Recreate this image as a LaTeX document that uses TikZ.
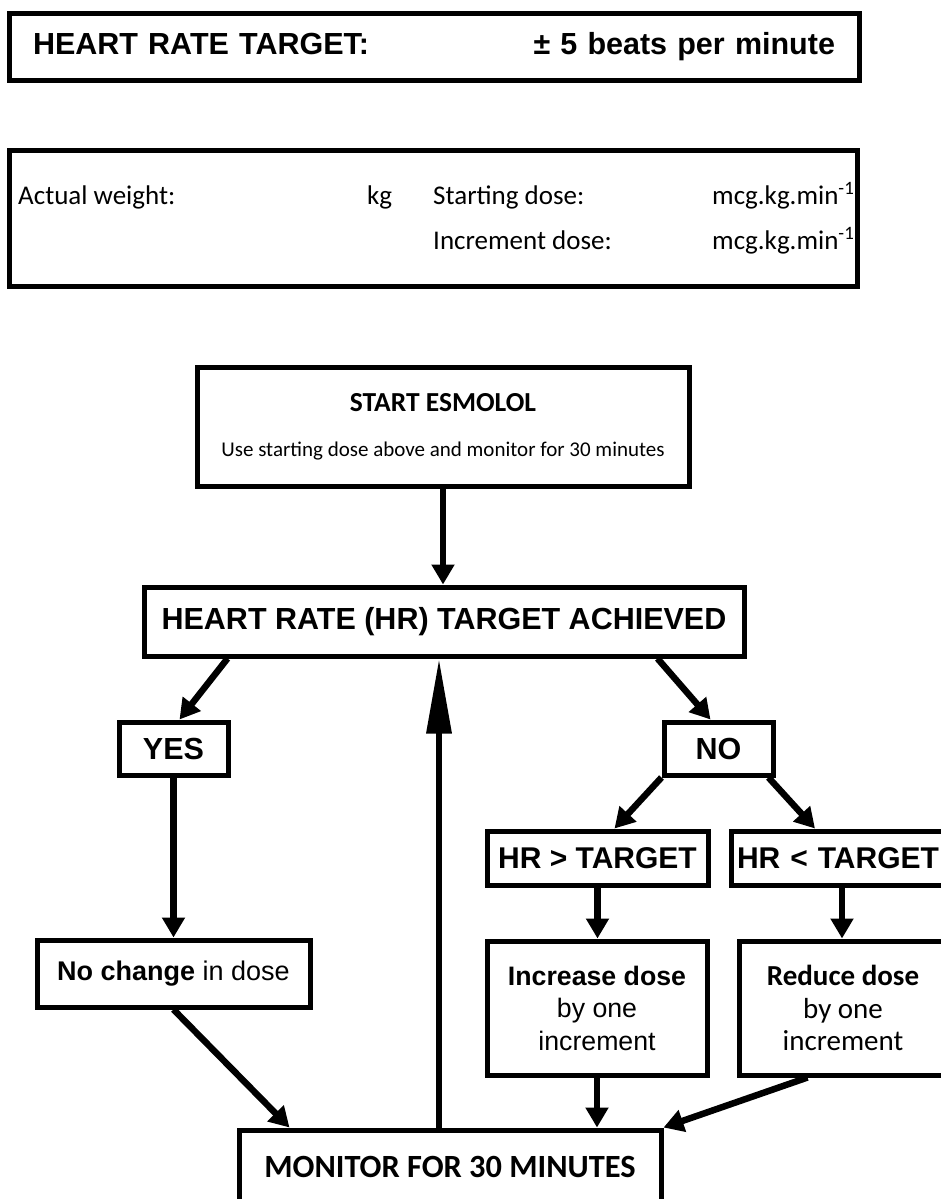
\documentclass[tikz,border=0pt]{standalone}
\usepackage{fontspec}
\setmainfont{Liberation Sans}
\newfontfamily\carlito{Carlito}
\usetikzlibrary{arrows.meta}
\usetikzlibrary{positioning}

\begin{document}
\begin{tikzpicture}[x=1pt,y=-1pt,
   box/.style={draw,line width=5pt,rectangle,inner sep=0pt,align=center},
   big/.style={font=\fontsize{30.5}{36}\selectfont\bfseries},
   wt/.style={font=\carlito\fontsize{27}{30}\selectfont,inner sep=0pt,anchor=base west},
   arr/.style={line width=6.5pt,-{Triangle[length=20pt,width=22pt]}},
   bigarr/.style={line width=6.5pt,-{Triangle[length=75pt,width=24pt]}}
  ]
\useasboundingbox (0,0) rectangle (940,1199);

% target and doses
\node[box,big,minimum height=66pt,text width=802pt,inner xsep=24pt,align=left] (target) at (434,47) {HEART RATE TARGET:\hfill\textpm{} 5 beats per minute};

\node[box,minimum width=848pt,minimum height=136pt] (weight) at (433,218) {};
\node[wt] (wlabel) at (18,204) {Actual weight:};
\node[wt] (wunit) at (367,204) {kg};
\node[wt] (sdose) at (433,204) {Starting dose:};
\node[wt] (sunit) at (712,204) {mcg.kg.min\textsuperscript{-1}};
\node[wt] (idose) at (433,249) {Increment dose:};
\node[wt] (iunit) at (712,249) {mcg.kg.min\textsuperscript{-1}};

% flow chart
\node[box,minimum width=492pt,minimum height=119pt,font=\carlito\fontsize{21}{25}\selectfont] (start) at (443,426.5) {{\bfseries\fontsize{27.5}{30}\selectfont START ESMOLOL}\\[20pt]Use starting dose above and monitor for 30 minutes};

\node[box,big,minimum width=600pt,minimum height=69pt] (hr) at (444,621.5) {HEART RATE (HR) TARGET ACHIEVED};

\node[box,big,minimum width=109pt,minimum height=53pt] (yes) at (173.5,748.5) {YES};
\node[box,big,minimum width=109pt,minimum height=53pt] (no) at (718.5,748.5) {NO};

\node[box,big,font=\fontsize{30}{36}\selectfont\bfseries,minimum width=221pt,minimum height=54pt] (hrgt) at (597.5,858) {HR > TARGET};
\node[box,big,font=\fontsize{30}{36}\selectfont\bfseries,minimum width=222pt,minimum height=54pt,text width=210pt,align=left] (hrlt) at (842,858) {HR < TARGET};

\node[box,minimum width=273pt,minimum height=67pt,font=\fontsize{27}{31}\selectfont] (nochange) at (173.5,973.5) {\textbf{No change} in dose};
\node[box,minimum width=220pt,minimum height=134pt,font=\fontsize{26.7}{32.5}\selectfont] (increase) at (597,1008) {\textbf{Increase dose}\\by one\\increment};
\node[box,minimum width=208pt,minimum height=134pt,font=\carlito\fontsize{29}{32.5}\selectfont] (reduce) at (843,1008) {\textbf{Reduce dose}\\by one\\increment};

\node[box,minimum width=422pt,minimum height=73pt,font=\carlito\bfseries\fontsize{32.4}{38}\selectfont] (monitor) at (450,1166.5) {MONITOR FOR 30 MINUTES};

\draw[arr] (start.south) -- (start.south |- hr.north);
\draw[arr] ([xshift=86pt]hr.south west) -- ([xshift=6pt]yes.north);
\draw[arr] ([xshift=-89pt]hr.south east) -- ([xshift=-8pt]no.north);
\draw[arr] (yes) -- (nochange);
\draw[arr] (no.south west) -- ([xshift=17pt]hrgt.north);
\draw[arr] ([xshift=-7pt]no.south east) -- ([xshift=-27pt]hrlt.north);
\draw[arr] (hrgt.south) -- (hrgt.south |- increase.north);
\draw[arr] (hrlt.south) -- (hrlt.south |- reduce.north);
\draw[arr] (nochange.south) -- ([xshift=53pt]monitor.north west);
\draw[arr] (increase.south) -- (increase.south |- monitor.north);
\draw[arr] ([xshift=71pt]reduce.south west) -- (monitor.north east);

\coordinate (back) at ([xshift=-11pt]monitor.north);
\draw[bigarr] (back) -- (back |- hr.south);

\end{tikzpicture}
\end{document}
